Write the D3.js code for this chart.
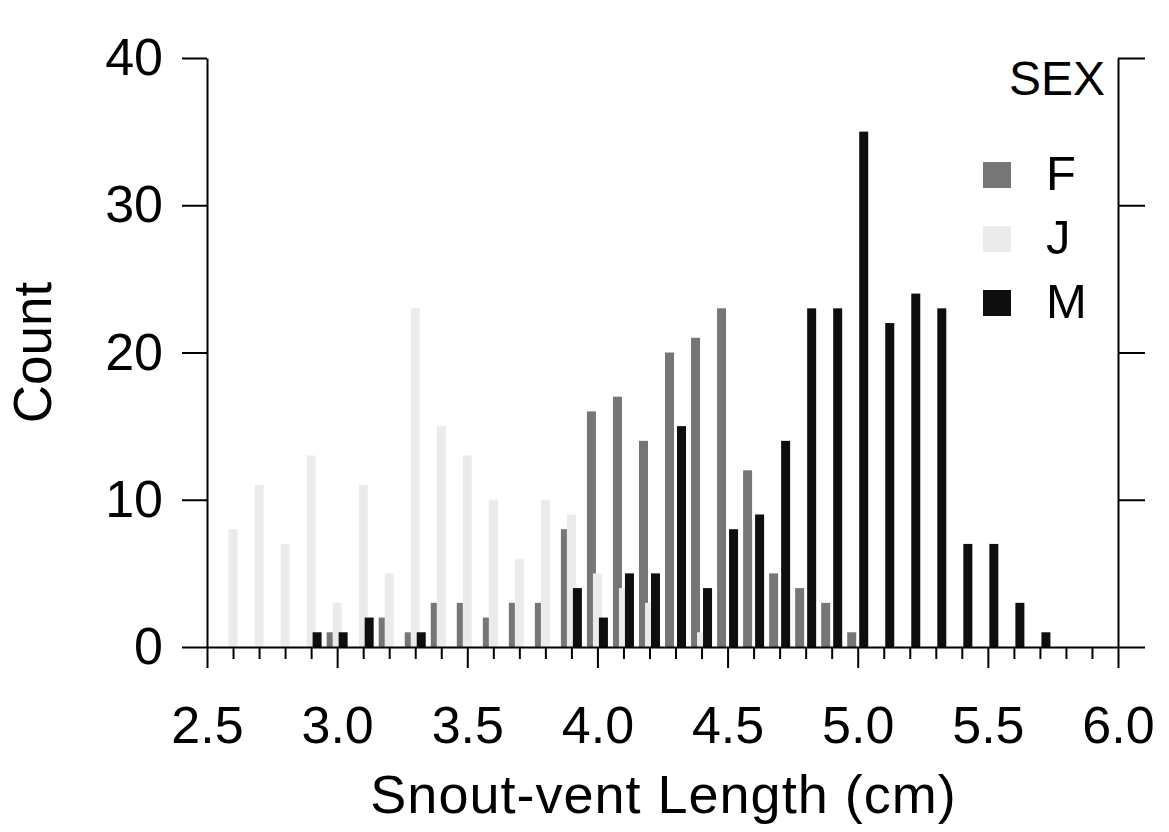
<!DOCTYPE html>
<html>
<head>
<meta charset="utf-8">
<script src="https://cdn.jsdelivr.net/npm/d3@7"></script>
<style>
	body { margin: 0; background: #fff; }
	text { font-family: "Liberation Sans", Arial, sans-serif; fill: #000; }
</style>
</head>
<body>
<script>
// bins of snout-vent length (cm), one group of bars per bin
var bins = [2.6, 2.7, 2.8, 2.9, 3.0, 3.1, 3.2, 3.3, 3.4, 3.5, 3.6, 3.7, 3.8, 3.9, 4.0, 4.1,
	4.2, 4.3, 4.4, 4.5, 4.6, 4.7, 4.8, 4.9, 5.0, 5.1, 5.2, 5.3, 5.4, 5.5, 5.6, 5.7];

// counts per sex
var females = [0, 0, 0, 0, 1, 0, 2, 1, 3, 3, 2, 3, 3, 8, 16, 17,
	14, 20, 21, 23, 12, 5, 4, 3, 1, 0, 0, 0, 0, 0, 0, 0];
var juveniles = [8, 11, 7, 13, 3, 11, 5, 23, 15, 13, 10, 6, 10, 9, 5, 4,
	3, 0, 1, 0, 0, 0, 0, 0, 0, 0, 0, 0, 0, 0, 0, 0];
var males = [0, 0, 0, 1, 1, 2, 0, 1, 0, 0, 0, 0, 0, 4, 2, 5,
	5, 15, 4, 8, 9, 14, 23, 23, 35, 22, 24, 23, 7, 7, 3, 1];

var sex_names = ["F", "J", "M"];
var sex_values = [females, juveniles, males];
var sex_colors = ["#767676", "#ebebeb", "#0e0e0e"];

var x_ticks = [2.5, 3.0, 3.5, 4.0, 4.5, 5.0, 5.5, 6.0];
var x_minor = [2.6, 2.7, 2.8, 2.9, 3.1, 3.2, 3.3, 3.4, 3.6, 3.7, 3.8, 3.9, 4.1, 4.2, 4.3, 4.4,
	4.6, 4.7, 4.8, 4.9, 5.1, 5.2, 5.3, 5.4, 5.6, 5.7, 5.8, 5.9];
var y_ticks = [0, 10, 20, 30, 40];

var width = 1169, height = 832;
// plot edges (window.top is reserved, so no plain "top")
var plot_left = 207, plot_right = 1118, plot_top = 58, plot_bottom = 647;

var svg = d3.select("body").append("svg")
	.attr("width", width)
	.attr("height", height);

var x = d3.scaleLinear().domain([2.5, 6.0]).range([plot_left, plot_right]);
var y = d3.scaleLinear().domain([0, 40]).range([plot_bottom, plot_top]);

var bar_w = 9, bar_step = 6;

// bars, F first, then J, M on top
sex_values.forEach(function(vals, i) {
	svg.append("g")
		.selectAll("rect")
		.data(bins.map(function(b, j) { return {bin: b, v: vals[j]}; })
			.filter(function(d) { return d.v > 0; }))
		.enter().append("rect")
		.attr("x", function(d) { return x(d.bin) + (i - 1) * bar_step - bar_w / 2; })
		.attr("y", function(d) { return y(d.v); })
		.attr("width", bar_w)
		.attr("height", function(d) { return y(0) - y(d.v); })
		.attr("fill", sex_colors[i]);
});

// bottom axis, minor ticks
svg.append("g")
	.attr("transform", "translate(0," + plot_bottom + ")")
	.call(d3.axisBottom(x).tickValues(x_minor).tickSize(12).tickSizeOuter(0).tickFormat(""))
	.call(function(g) { g.select(".domain").remove(); });

// bottom axis, major ticks with labels
svg.append("g")
	.attr("class", "axis")
	.attr("transform", "translate(0," + plot_bottom + ")")
	.call(d3.axisBottom(x).tickValues(x_ticks).tickSize(21).tickSizeOuter(0)
		.tickPadding(38).tickFormat(d3.format(".1f")));

// left axis
svg.append("g")
	.attr("class", "axis")
	.attr("transform", "translate(" + plot_left + ",0)")
	.call(d3.axisLeft(y).tickValues(y_ticks).tickSize(25).tickSizeOuter(0).tickPadding(19));

// right axis, no labels
svg.append("g")
	.attr("class", "axis")
	.attr("transform", "translate(" + plot_right + ",0)")
	.call(d3.axisRight(y).tickValues(y_ticks).tickSize(27).tickSizeOuter(0).tickFormat(""));

svg.selectAll(".tick line, .domain")
	.attr("stroke", "#000")
	.attr("stroke-width", 2);
svg.selectAll(".axis text")
	.attr("font-size", 52)
	.attr("font-family", "Liberation Sans, Arial, sans-serif")
	.attr("fill", "#000");

// axis titles
svg.append("text")
	.attr("x", (plot_left + plot_right) / 2 + 1)
	.attr("y", 813)
	.attr("text-anchor", "middle")
	.attr("font-size", 54)
	.attr("letter-spacing", 1)
	.text("Snout-vent Length (cm)");

svg.append("text")
	.attr("transform", "translate(51," + (plot_top + plot_bottom) / 2 + ") rotate(-90)")
	.attr("text-anchor", "middle")
	.attr("font-size", 53)
	.text("Count");

// legend
svg.append("text")
	.attr("x", 1105)
	.attr("y", 95)
	.attr("text-anchor", "end")
	.attr("font-size", 48)
	.text("SEX");

for (var i = 0; i < sex_names.length; i++) {
	svg.append("rect")
		.attr("x", 983)
		.attr("y", 162 + 64 * i)
		.attr("width", 28)
		.attr("height", 26)
		.attr("fill", sex_colors[i]);
	svg.append("text")
		.attr("x", 1046)
		.attr("y", 190 + 64 * i)
		.attr("font-size", 49)
		.text(sex_names[i]);
}
</script>
</body>
</html>
